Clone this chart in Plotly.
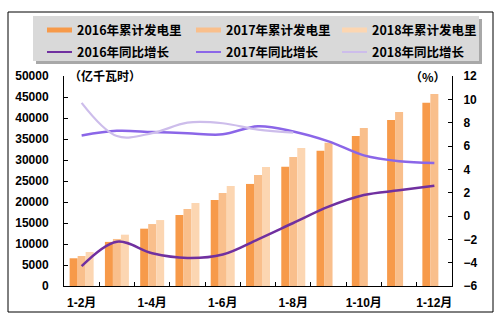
import plotly.graph_objects as go

# ---------------- data ----------------
months = ["1-2月", "1-3月", "1-4月", "1-5月", "1-6月", "1-7月",
          "1-8月", "1-9月", "1-10月", "1-11月", "1-12月"]
month_labels = ["1-2月", "", "1-4月", "", "1-6月", "",
                "1-8月", "", "1-10月", "", "1-12月"]

gen_2016 = [6600, 10500, 13650, 16900, 20500, 24300, 28400, 32200, 35700, 39500, 43650]
gen_2017 = [7150, 11200, 14750, 18330, 22150, 26430, 30700, 34130, 37620, 41430, 45700]
gen_2018 = [8100, 12220, 15700, 19760, 23800, 28330, 32860]

yoy_2016 = [-4.3, -2.2, -3.2, -3.6, -3.3, -2.0, -0.6, 0.8, 1.8, 2.2, 2.6]
yoy_2017 = [6.9, 7.3, 7.2, 7.1, 7.0, 7.7, 7.25, 6.4, 5.2, 4.7, 4.55]
yoy_2018 = [9.7, 6.85, 7.1, 8.0, 7.95, 7.4, 7.15]

bar_names = ["2016年累计发电里", "2017年累计发电里", "2018年累计发电里"]
line_names = ["2016年同比增长", "2017年同比增长", "2018年同比增长"]

bar_colors = ["#F79A4A", "#F9BF8C", "#FCD6B2"]
line_colors = ["#7030A0", "#8B66E8", "#CDBDEB"]
line_widths = [2.5, 2.5, 2.2]

# ---------------- layout geometry (pixels) ----------------
W, H = 501, 331
L, R, T, B = 64, 452, 76, 286


def px2x(px):
    return (px - L) / (R - L)


def py2y(py):
    return (B - py) / (B - T)


fig = go.Figure()

for name, vals, col in zip(bar_names, [gen_2016, gen_2017, gen_2018], bar_colors):
    fig.add_trace(go.Bar(x=months[:len(vals)], y=vals, name=name,
                         marker=dict(color=col, line=dict(width=0)),
                         showlegend=False, yaxis="y"))

for name, vals, col, w in zip(line_names, [yoy_2016, yoy_2017, yoy_2018], line_colors, line_widths):
    fig.add_trace(go.Scatter(x=months[:len(vals)], y=vals, name=name, mode="lines",
                             line=dict(color=col, width=w, shape="spline", smoothing=1.0),
                             yaxis="y2", showlegend=False))

tick_font = dict(family="Liberation Sans, Noto Sans CJK SC", size=12, color="#000000", weight="bold")
legend_font = dict(family="Noto Sans CJK SC", size=12.5, color="#000000", weight="bold")

shapes = [
    # outer frame
    dict(type="rect", xref="paper", yref="paper",
         x0=px2x(8), x1=px2x(493), y0=py2y(312), y1=py2y(12),
         line=dict(color="#000000", width=1), fillcolor="rgba(0,0,0,0)", layer="above"),
    # legend shadow
    dict(type="rect", xref="paper", yref="paper",
         x0=px2x(36), x1=px2x(482), y0=py2y(64), y1=py2y(19),
         line=dict(width=0), fillcolor="#A8A8A8", layer="above"),
    # legend box
    dict(type="rect", xref="paper", yref="paper",
         x0=px2x(33), x1=px2x(479), y0=py2y(61), y1=py2y(16),
         line=dict(width=0), fillcolor="#D9D9D9", layer="above"),
]

annotations = [
    dict(text="（亿千瓦时）", xref="paper", yref="paper", x=px2x(105), y=py2y(75),
         xanchor="center", yanchor="middle", showarrow=False,
         font=dict(family="Noto Sans CJK SC", size=12, color="#000000", weight="bold")),
    dict(text="（%）", xref="paper", yref="paper", x=px2x(428), y=py2y(76),
         xanchor="center", yanchor="middle", showarrow=False,
         font=dict(family="Noto Sans CJK SC", size=12, color="#000000", weight="bold")),
]

# ---------------- legend (keys + labels) ----------------
key_x0 = [47, 196, 342]   # left end of each key (px)
key_len = 25
text_gap = 3
row_y = [30, 52]          # centre line of each legend row (px)

rows = [(bar_names, bar_colors, [5, 5, 5]), (line_names, line_colors, [2, 2, 2])]
for r, (names, cols, widths) in enumerate(rows):
    for c, (name, col, w) in enumerate(zip(names, cols, widths)):
        shapes.append(dict(type="line", xref="paper", yref="paper",
                           x0=px2x(key_x0[c]), x1=px2x(key_x0[c] + key_len),
                           y0=py2y(row_y[r]), y1=py2y(row_y[r]),
                           line=dict(color=col, width=w), layer="above"))
        annotations.append(dict(text=name, xref="paper", yref="paper",
                                x=px2x(key_x0[c] + key_len + text_gap), y=py2y(row_y[r]),
                                xanchor="left", yanchor="middle", showarrow=False,
                                font=legend_font))

fig.update_layout(
    width=W, height=H,
    margin=dict(l=L, r=W - R, t=T, b=H - B, autoexpand=False),
    paper_bgcolor="#FFFFFF", plot_bgcolor="#FFFFFF",
    barmode="group", bargap=0.32, bargroupgap=0,
    shapes=shapes, annotations=annotations,
    showlegend=False,
    xaxis=dict(type="category", categoryorder="array", categoryarray=months,
               tickmode="array", tickvals=months, ticktext=month_labels,
               tickson="boundaries", ticks="inside", ticklen=4, tickcolor="#000000",
               showline=True, linecolor="#000000", linewidth=1, tickangle=0,
               showgrid=False, zeroline=False, tickfont=tick_font,
               ticklabelstandoff=6, range=[-0.5, 10.5]),
    yaxis=dict(range=[0, 50000], dtick=5000, tick0=0, ticks="inside", ticklen=4,
               tickformat="d",
               tickcolor="#000000", showline=True, linecolor="#000000", linewidth=1,
               showgrid=False, zeroline=False, tickfont=tick_font,
               ticklabelstandoff=12),
    yaxis2=dict(range=[-6, 12], dtick=2, tick0=0, overlaying="y", side="right",
                ticks="inside", ticklen=4, tickcolor="#000000", showline=True,
                linecolor="#000000", linewidth=1, showgrid=False, zeroline=False,
                tickfont=tick_font, ticklabelstandoff=8),
)

fig.write_html("out.html")
